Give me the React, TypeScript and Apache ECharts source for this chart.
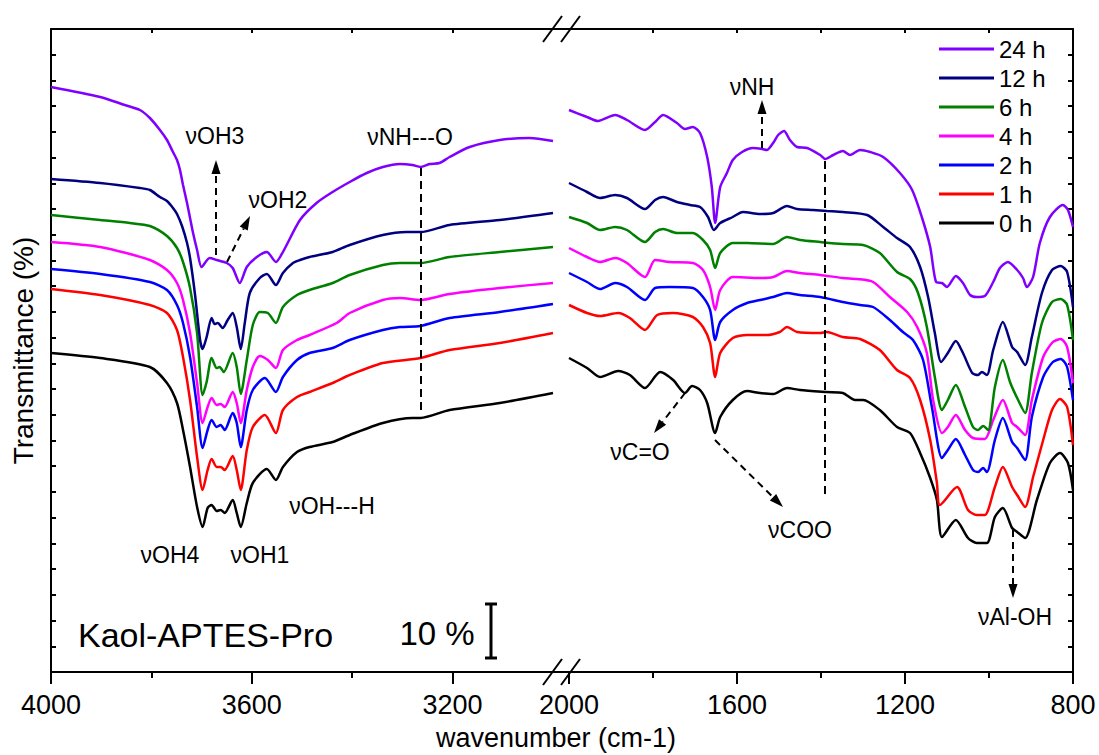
import React, { useEffect, useRef } from "react";
import * as echarts from "echarts";

const seriesNames = ["24 h", "12 h", "6 h", "4 h", "2 h", "1 h", "0 h"];
const seriesColors = ["#8000FF", "#000080", "#008000", "#FF00FF", "#0000FF", "#FF0000", "#000000"];

// x ticks
const leftMajorTicks = [4000, 3600, 3200];
const leftMinorTicks = [3800, 3400];
const rightMajorTicks = [2000, 1600, 1200, 800];
const rightMinorTicks = [1800, 1400, 1000];

// [wavenumber (cm-1), transmittance (a.u., offset spectra)]
const t24Left: [number, number][] = [[4000,585],[3902,575],[3853,567],[3823,562],[3803,554],[3783,542],[3769,532],[3757,520],[3749,512],[3743,502],[3737,487],[3729,469],[3723,454],[3717,439],[3709,422],[3700,405],[3684,414],[3670,412],[3650,409],[3638,404],[3624,389],[3610,405],[3590,415],[3570,420],[3552,410],[3538,420],[3504,452],[3471,469],[3439,480],[3405,490],[3371,499],[3339,505],[3305,508],[3280,507],[3264,505],[3246,508],[3226,509],[3206,515],[3166,525],[3106,532],[3047,534],[3000,531]];
const t12Left: [number, number][] = [[4000,493],[3902,489],[3823,484],[3803,482],[3783,475],[3769,471],[3757,464],[3749,458],[3739,446],[3729,429],[3723,414],[3713,377],[3703,332],[3698,323],[3690,335],[3680,354],[3674,348],[3668,349],[3658,344],[3648,352],[3638,359],[3630,345],[3622,323],[3614,349],[3604,379],[3584,394],[3570,398],[3552,387],[3538,399],[3518,409],[3504,412],[3485,415],[3439,420],[3405,427],[3339,437],[3292,440],[3264,440],[3206,447],[3106,452],[3000,459]];
const t6Left: [number, number][] = [[4000,457],[3902,452],[3843,449],[3803,446],[3769,436],[3749,424],[3737,410],[3723,384],[3709,339],[3698,277],[3690,290],[3680,314],[3670,304],[3664,305],[3656,300],[3638,319],[3630,305],[3622,278],[3610,312],[3598,347],[3584,360],[3568,359],[3552,349],[3538,365],[3510,377],[3485,382],[3439,389],[3405,397],[3339,407],[3305,409],[3264,409],[3206,415],[3106,420],[3000,425]];
const t4Left: [number, number][] = [[4000,430],[3902,425],[3803,412],[3769,402],[3749,389],[3737,372],[3723,339],[3709,289],[3698,249],[3688,265],[3680,274],[3670,267],[3662,268],[3654,265],[3638,280],[3630,269],[3622,249],[3610,282],[3598,305],[3584,316],[3568,312],[3552,304],[3538,322],[3510,332],[3485,337],[3431,349],[3405,359],[3339,372],[3305,374],[3264,372],[3206,378],[3106,384],[3000,389]];
const t2Left: [number, number][] = [[4000,403],[3902,398],[3803,390],[3769,382],[3749,367],[3737,349],[3723,315],[3709,265],[3698,224],[3688,242],[3680,252],[3670,245],[3662,247],[3654,242],[3638,259],[3630,249],[3622,225],[3610,262],[3598,282],[3574,294],[3552,280],[3538,295],[3510,312],[3485,319],[3439,324],[3405,332],[3339,342],[3305,345],[3264,346],[3206,354],[3106,360],[3000,368]];
const t1Left: [number, number][] = [[4000,383],[3902,377],[3803,367],[3769,359],[3749,342],[3737,315],[3723,272],[3709,215],[3698,182],[3688,202],[3680,213],[3670,205],[3662,205],[3654,202],[3638,216],[3630,202],[3622,182],[3610,222],[3598,245],[3574,257],[3552,239],[3538,262],[3510,275],[3485,280],[3439,289],[3405,297],[3339,309],[3264,314],[3206,322],[3106,329],[3000,339]];
const t0Left: [number, number][] = [[4000,319],[3902,314],[3803,305],[3769,289],[3749,269],[3737,242],[3723,205],[3709,165],[3698,145],[3688,164],[3680,167],[3670,161],[3662,162],[3654,159],[3638,172],[3630,159],[3622,145],[3610,169],[3598,189],[3570,203],[3552,192],[3538,205],[3510,220],[3485,225],[3439,230],[3405,237],[3339,249],[3280,254],[3264,254],[3206,262],[3106,269],[3000,279]];

const t24Right: [number, number][] = [[2000,562],[1957,555],[1931,551],[1890,557],[1862,552],[1819,542],[1795,550],[1776,557],[1743,549],[1724,543],[1705,545],[1688,539],[1671,515],[1660,485],[1652,449],[1640,485],[1624,499],[1610,512],[1588,520],[1562,524],[1540,523],[1529,522],[1514,529],[1502,537],[1488,541],[1474,532],[1457,525],[1433,524],[1402,517],[1390,513],[1371,517],[1348,521],[1331,517],[1307,522],[1283,520],[1252,515],[1212,499],[1183,482],[1160,455],[1140,425],[1126,390],[1112,389],[1100,385],[1079,396],[1062,389],[1045,377],[1029,375],[1010,376],[990,390],[974,404],[955,410],[933,402],[919,394],[910,385],[895,395],[879,429],[855,455],[824,467],[812,462],[800,445]];
const t12Right: [number, number][] = [[2000,489],[1957,480],[1926,474],[1890,477],[1862,474],[1819,463],[1795,472],[1776,475],[1743,470],[1712,467],[1688,465],[1669,455],[1655,442],[1640,449],[1610,455],[1586,460],[1545,458],[1514,459],[1481,466],[1457,463],[1419,462],[1386,461],[1348,460],[1290,457],[1252,445],[1219,434],[1188,425],[1164,405],[1145,375],[1129,339],[1114,310],[1098,319],[1079,331],[1062,319],[1040,299],[1026,297],[1017,300],[1005,297],[990,322],[967,350],[945,325],[933,320],[914,307],[898,335],[874,379],[850,402],[829,406],[814,400],[800,365]];
const t6Right: [number, number][] = [[2000,455],[1957,449],[1926,442],[1890,445],[1862,442],[1819,430],[1795,440],[1776,443],[1743,439],[1705,439],[1681,432],[1664,422],[1652,404],[1640,419],[1610,429],[1576,429],[1514,428],[1481,435],[1450,432],[1402,430],[1348,428],[1300,427],[1260,419],[1219,400],[1188,393],[1169,379],[1148,345],[1129,295],[1112,262],[1098,272],[1079,287],[1057,265],[1038,245],[1026,242],[1014,246],[1002,242],[986,285],[967,312],[950,290],[933,274],[914,259],[898,299],[874,349],[850,370],[829,373],[814,367],[800,332]];
const t4Right: [number, number][] = [[2000,424],[1957,415],[1926,410],[1890,414],[1862,409],[1819,395],[1795,412],[1760,410],[1705,409],[1681,402],[1664,385],[1652,362],[1640,382],[1610,395],[1545,394],[1514,395],[1481,401],[1450,399],[1402,397],[1348,394],[1314,393],[1276,390],[1236,375],[1195,360],[1171,345],[1148,319],[1133,272],[1112,239],[1098,245],[1079,257],[1057,242],[1038,234],[1010,233],[990,252],[967,272],[945,249],[933,245],[914,237],[898,272],[871,315],[848,330],[829,333],[814,325],[800,289]];
const t2Right: [number, number][] = [[2000,399],[1957,390],[1926,383],[1890,389],[1862,385],[1819,372],[1795,384],[1760,385],[1705,384],[1681,375],[1664,362],[1652,332],[1640,350],[1610,362],[1576,369],[1545,372],[1514,375],[1481,379],[1450,377],[1402,375],[1348,370],[1307,367],[1276,365],[1236,352],[1205,340],[1181,332],[1157,312],[1136,265],[1112,214],[1098,222],[1079,233],[1057,217],[1038,202],[1026,200],[1014,204],[1005,200],[986,232],[967,254],[945,230],[933,224],[914,212],[898,255],[871,295],[848,310],[829,313],[814,305],[800,272]];
const t1Right: [number, number][] = [[2000,367],[1957,359],[1926,356],[1883,359],[1855,354],[1819,342],[1790,357],[1752,359],[1705,355],[1681,345],[1664,329],[1652,295],[1640,319],[1610,334],[1576,337],[1529,337],[1498,340],[1481,345],[1457,340],[1402,339],[1386,340],[1348,335],[1307,333],[1260,322],[1219,302],[1188,294],[1164,272],[1140,232],[1124,189],[1117,167],[1076,185],[1050,162],[1029,157],[1010,157],[986,185],[967,205],[945,185],[933,177],[914,165],[895,195],[871,232],[850,262],[831,273],[814,265],[800,227]];
const t0Right: [number, number][] = [[2000,314],[1957,304],[1926,295],[1883,301],[1855,297],[1819,284],[1783,300],[1752,292],[1724,279],[1707,286],[1688,282],[1671,269],[1652,239],[1640,255],[1610,272],[1576,281],[1545,279],[1514,278],[1481,284],[1450,282],[1386,280],[1348,279],[1319,272],[1300,272],[1260,262],[1219,245],[1188,239],[1164,219],[1140,194],[1124,172],[1112,135],[1079,152],[1050,134],[1029,129],[1005,129],[986,155],[967,164],[945,144],[933,140],[914,134],[886,172],[855,209],[831,219],[812,209],[800,182]];

const leftData = [t24Left, t12Left, t6Left, t4Left, t2Left, t1Left, t0Left];
const rightData = [t24Right, t12Right, t6Right, t4Right, t2Right, t1Right, t0Right];

const FONT = "'Liberation Sans', Arial, Helvetica, sans-serif";
const BLACK = "#000";

function arrow(x1: number, y1: number, x2: number, y2: number) {
  const dx = x2 - x1, dy = y2 - y1;
  const L = Math.hypot(dx, dy);
  const ux = dx / L, uy = dy / L;
  const hl = 14, hw = 4.5;
  const bx = x2 - ux * hl, by = y2 - uy * hl;
  return [
    { type: "line", z: 100, shape: { x1, y1, x2: bx, y2: by }, style: { stroke: BLACK, lineWidth: 2, lineDash: [7, 5] } },
    { type: "polygon", z: 100, shape: { points: [[x2, y2], [bx - uy * hw, by + ux * hw], [bx + uy * hw, by - ux * hw]] }, style: { fill: BLACK } },
  ];
}
function dashed(x1: number, y1: number, x2: number, y2: number) {
  return { type: "line", z: 100, shape: { x1, y1, x2, y2 }, style: { stroke: BLACK, lineWidth: 2, lineDash: [8, 5] } };
}
function label(text: string, x: number, y: number, size = 23, align = "center") {
  return { type: "text", z: 100, x, y, style: { text, fontSize: size, fontFamily: FONT, fill: BLACK, align, verticalAlign: "middle" } };
}
function solid(x1: number, y1: number, x2: number, y2: number, w = 2) {
  return { type: "line", z: 100, shape: { x1, y1, x2, y2 }, style: { stroke: BLACK, lineWidth: w } };
}

export default function App() {
  const ref = useRef<HTMLDivElement>(null);
  useEffect(() => {
    document.body.style.margin = "0";
    const chart = echarts.init(ref.current as HTMLDivElement, null, { renderer: "svg" });
    const axisLine = { show: true, onZero: false, lineStyle: { color: BLACK, width: 2 } };
    const tickStyle = { color: BLACK, width: 2 };
    const xLabel = { show: true, fontSize: 27, color: BLACK, fontFamily: FONT, margin: 19, formatter: (v: number) => String(v) };
    const mkX = (grid: number, min: number, max: number, majors: number[], minors: number[], tops: number[]) => [
      { gridIndex: grid, type: "value", min, max, inverse: true, position: "bottom", axisLine, axisTick: { show: true, length: 12, customValues: majors, lineStyle: tickStyle }, axisLabel: { ...xLabel, customValues: majors }, splitLine: { show: false } },
      { gridIndex: grid, type: "value", min, max, inverse: true, position: "bottom", axisLine: { show: false }, axisTick: { show: true, length: 6, customValues: minors, lineStyle: tickStyle }, axisLabel: { show: false }, splitLine: { show: false } },
      { gridIndex: grid, type: "value", min, max, inverse: true, position: "top", axisLine, axisTick: { show: true, inside: true, length: 4, customValues: tops, lineStyle: tickStyle }, axisLabel: { show: false }, splitLine: { show: false } },
    ];
    const yCommon = { type: "value", min: 0, max: 643, interval: 25.72, axisLine, axisTick: { show: true, inside: true, length: 5, lineStyle: tickStyle }, axisLabel: { show: false }, splitLine: { show: false } };

    const series: any[] = [];
    seriesNames.forEach((name, i) => {
      const common = { name, type: "line", showSymbol: false, symbol: "none", smooth: 0.25, color: seriesColors[i], lineStyle: { color: seriesColors[i], width: 2.5 }, z: 10 - i };
      series.push({ ...common, xAxisIndex: 0, yAxisIndex: 0, data: leftData[i] });
      series.push({ ...common, xAxisIndex: 3, yAxisIndex: 1, data: rightData[i] });
    });

    const graphic: any[] = [
      // axis break
      solid(553, 29, 569, 29), solid(553, 672, 569, 672),
      solid(543, 42, 562, 16), solid(561, 42, 580, 16),
      solid(543, 685, 562, 659), solid(561, 685, 580, 659),
      // annotations
      label("νOH3", 215, 136),
      ...arrow(216, 255, 216, 160),
      label("νOH2", 278, 200),
      ...arrow(227, 262, 250, 216),
      label("νNH---O", 410, 137),
      dashed(421, 168, 421, 413),
      label("νOH---H", 332, 506),
      label("νOH4", 170, 555),
      label("νOH1", 260, 555),
      label("νNH", 752, 87),
      ...arrow(762, 148, 762, 100),
      label("νC=O", 640, 452),
      ...arrow(685, 393, 654, 433),
      label("νCOO", 800, 530),
      ...arrow(715, 440, 783, 507),
      dashed(825, 161, 825, 497),
      label("νAl-OH", 1015, 617),
      ...arrow(1013, 530, 1013, 598),
      label("Kaol-APTES-Pro", 78, 635, 34, "left"),
      label("10 %", 437, 633, 33),
      solid(491, 604, 491, 658, 3), solid(485, 604, 497, 604, 3), solid(485, 658, 497, 658, 3),
      label("wavenumber (cm-1)", 556, 738, 27),
    ];

    chart.setOption({
      animation: false,
      backgroundColor: "#fff",
      textStyle: { fontFamily: FONT },
      grid: [
        { left: 51, top: 29, width: 502, height: 643 },
        { left: 569, top: 29, width: 504, height: 643 },
      ],
      xAxis: [
        ...mkX(0, 3000, 4000, leftMajorTicks, leftMinorTicks, [3800, 3600, 3400, 3200]),
        ...mkX(1, 800, 2000, rightMajorTicks, rightMinorTicks, [1800, 1600, 1400, 1200, 1000]),
      ],
      yAxis: [
        { ...yCommon, gridIndex: 0, position: "left", name: "Transmittance (%)", nameLocation: "middle", nameGap: 14, nameTextStyle: { fontSize: 28, color: BLACK, fontFamily: FONT } },
        { ...yCommon, gridIndex: 1, position: "right" },
      ],
      legend: {
        data: seriesNames,
        orient: "vertical",
        left: 939,
        top: 37,
        padding: 0,
        itemGap: 5,
        itemWidth: 55,
        itemHeight: 3,
        icon: "rect",
        textStyle: { fontSize: 24, lineHeight: 24, color: BLACK, fontFamily: FONT },
      },
      series,
      graphic,
    });
    return () => chart.dispose();
  }, []);
  return <div ref={ref} style={{ width: 1099, height: 755 }} />;
}
